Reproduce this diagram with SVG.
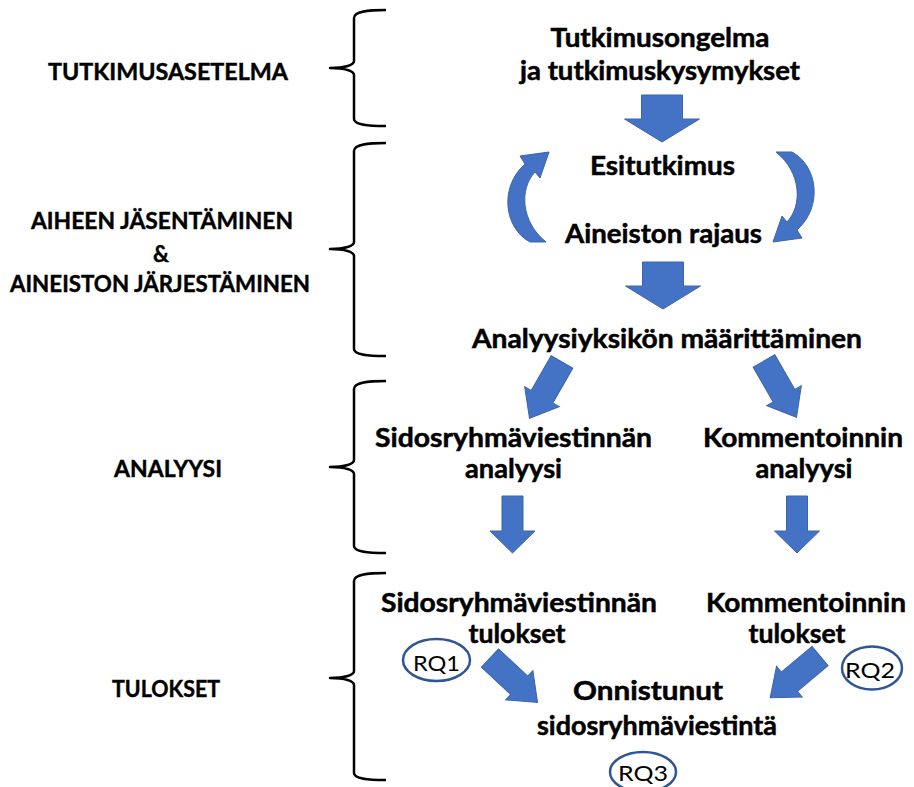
<svg xmlns="http://www.w3.org/2000/svg" width="914" height="787" viewBox="0 0 914 787">
<style>
  text { font-family: Lato, "Open Sans", sans-serif; fill: #000; }
  .b { font-weight: 700; font-size: 26px; text-anchor: middle; stroke: #000; stroke-width: 0.5; }
  .s { font-weight: 700; font-size: 22px; text-anchor: middle; stroke: #000; stroke-width: 0.4; }
  .rq { font-weight: 400; font-size: 22px; text-anchor: middle; }
  .br { fill: none; stroke: #000; stroke-width: 2.5; stroke-linejoin: round; }
  .ar { fill: #4472C4; stroke: #3B64AE; stroke-width: 1; }
  .el { fill: none; stroke: #2F5597; stroke-width: 2.5; }
</style>
<defs>
  <polygon id="bigDown" points="-20.5,0 20.5,0 20.5,24 37.5,24 0,47 -37.5,24 -20.5,24"/>
  <polygon id="diag" points="-12.5,0 12.5,0 12.5,40 20,40 0,65 -20,40 -12.5,40"/>
  <polygon id="smallDown" points="-10.5,0 10.5,0 10.5,35 22.5,35 0,57 -22.5,35 -10.5,35"/>
  <path id="curl" d="M530,242 C504,228 499,187 525,164 L520,156 L549,152 L540,178 L535,172 C519,189 521,222 546,242 Z"/>
</defs>
<rect width="914" height="787" fill="#fff"/>

<g id="stage-tutkimusasetelma">
  <path class="br" d="M386,10 C368,10 354,11 354,18 L354,61 C354,65 345,68 330,68 C345,68 354,71 354,75 L354,119 C354,125 368,126 386,126"/>
  <text class="s" x="168" y="80" textLength="240" lengthAdjust="spacingAndGlyphs">TUTKIMUSASETELMA</text>
</g>
<g id="stage-jasentaminen">
  <path class="br" d="M386,143 C368,143 354,144 354,151 L354,242 C354,246 345,249 330,249 C345,249 354,252 354,256 L354,349 C354,355 368,356 386,356"/>
  <text class="s" x="162" y="229" textLength="262" lengthAdjust="spacingAndGlyphs">AIHEEN JÄSENTÄMINEN</text>
  <text class="s" x="161" y="262">&amp;</text>
  <text class="s" x="160" y="292" textLength="300" lengthAdjust="spacingAndGlyphs">AINEISTON JÄRJESTÄMINEN</text>
</g>
<g id="stage-analyysi">
  <path class="br" d="M386,381 C368,381 354,382 354,389 L354,460 C354,464 345,467 330,467 C345,467 354,470 354,474 L354,546 C354,552 368,553 386,553"/>
  <text class="s" x="168" y="477" textLength="108" lengthAdjust="spacingAndGlyphs">ANALYYSI</text>
</g>
<g id="stage-tulokset">
  <path class="br" d="M386,573 C368,573 354,574 354,581 L354,671 C354,675 345,678 330,678 C345,678 354,681 354,685 L354,773 C354,779 368,780 386,780"/>
  <text class="s" x="166" y="697" textLength="108" lengthAdjust="spacingAndGlyphs">TULOKSET</text>
</g>

<g id="node-tutkimusongelma">
  <text class="b" x="660" y="47" textLength="219" lengthAdjust="spacingAndGlyphs">Tutkimusongelma</text>
  <text class="b" x="660" y="80" textLength="280" lengthAdjust="spacingAndGlyphs">ja tutkimuskysymykset</text>
</g>
<g id="node-esitutkimus">
  <text class="b" x="662.5" y="175" textLength="145" lengthAdjust="spacingAndGlyphs">Esitutkimus</text>
</g>
<g id="node-rajaus">
  <text class="b" x="663.5" y="243" textLength="197" lengthAdjust="spacingAndGlyphs">Aineiston rajaus</text>
</g>
<g id="node-analyysiyksikko">
  <text class="b" x="667" y="348" textLength="390" lengthAdjust="spacingAndGlyphs">Analyysiyksikön määrittäminen</text>
</g>
<g id="node-sidos-analyysi">
  <text class="b" x="513.5" y="447" textLength="277" lengthAdjust="spacingAndGlyphs">Sidosryhmäviestinnän</text>
  <text class="b" x="513.5" y="478" textLength="97" lengthAdjust="spacingAndGlyphs">analyysi</text>
</g>
<g id="node-komm-analyysi">
  <text class="b" x="803" y="447" textLength="200" lengthAdjust="spacingAndGlyphs">Kommentoinnin</text>
  <text class="b" x="804" y="478" textLength="97" lengthAdjust="spacingAndGlyphs">analyysi</text>
</g>
<g id="node-sidos-tulokset">
  <text class="b" x="519" y="612" textLength="276" lengthAdjust="spacingAndGlyphs">Sidosryhmäviestinnän</text>
  <text class="b" x="517" y="643" textLength="97" lengthAdjust="spacingAndGlyphs">tulokset</text>
</g>
<g id="node-komm-tulokset">
  <text class="b" x="806" y="612" textLength="200" lengthAdjust="spacingAndGlyphs">Kommentoinnin</text>
  <text class="b" x="797" y="643" textLength="97" lengthAdjust="spacingAndGlyphs">tulokset</text>
</g>
<g id="node-onnistunut">
  <text class="b" x="648" y="700" textLength="150" lengthAdjust="spacingAndGlyphs">Onnistunut</text>
  <text class="b" x="657" y="735" textLength="240" lengthAdjust="spacingAndGlyphs">sidosryhmäviestintä</text>
</g>
<g id="node-rq1">
  <ellipse class="el" cx="436.5" cy="660" rx="33.5" ry="21"/>
  <text class="rq" x="436.5" y="671" textLength="47" lengthAdjust="spacingAndGlyphs">RQ1</text>
</g>
<g id="node-rq2">
  <ellipse class="el" cx="872" cy="668" rx="30" ry="21.5"/>
  <text class="rq" x="870" y="678" textLength="50" lengthAdjust="spacingAndGlyphs">RQ2</text>
</g>
<g id="node-rq3">
  <ellipse class="el" cx="643" cy="772" rx="33" ry="20"/>
  <text class="rq" x="643" y="781" font-size="21" textLength="50" lengthAdjust="spacingAndGlyphs">RQ3</text>
</g>

<g id="connectors">
  <use href="#bigDown" class="ar" transform="translate(662,95)"/>
  <use href="#curl" class="ar"/>
  <use href="#curl" class="ar" transform="rotate(180 661 197)"/>
  <use href="#bigDown" class="ar" transform="translate(663,262)"/>
  <use href="#diag" class="ar" transform="translate(562,362) rotate(30)"/>
  <use href="#diag" class="ar" transform="translate(764,361) rotate(-30)"/>
  <use href="#smallDown" class="ar" transform="translate(512.5,496)"/>
  <use href="#smallDown" class="ar" transform="translate(797,496)"/>
  <use href="#diag" class="ar" transform="translate(490,658) rotate(-47)"/>
  <use href="#diag" class="ar" transform="translate(820,656) rotate(50)"/>
</g>
</svg>
